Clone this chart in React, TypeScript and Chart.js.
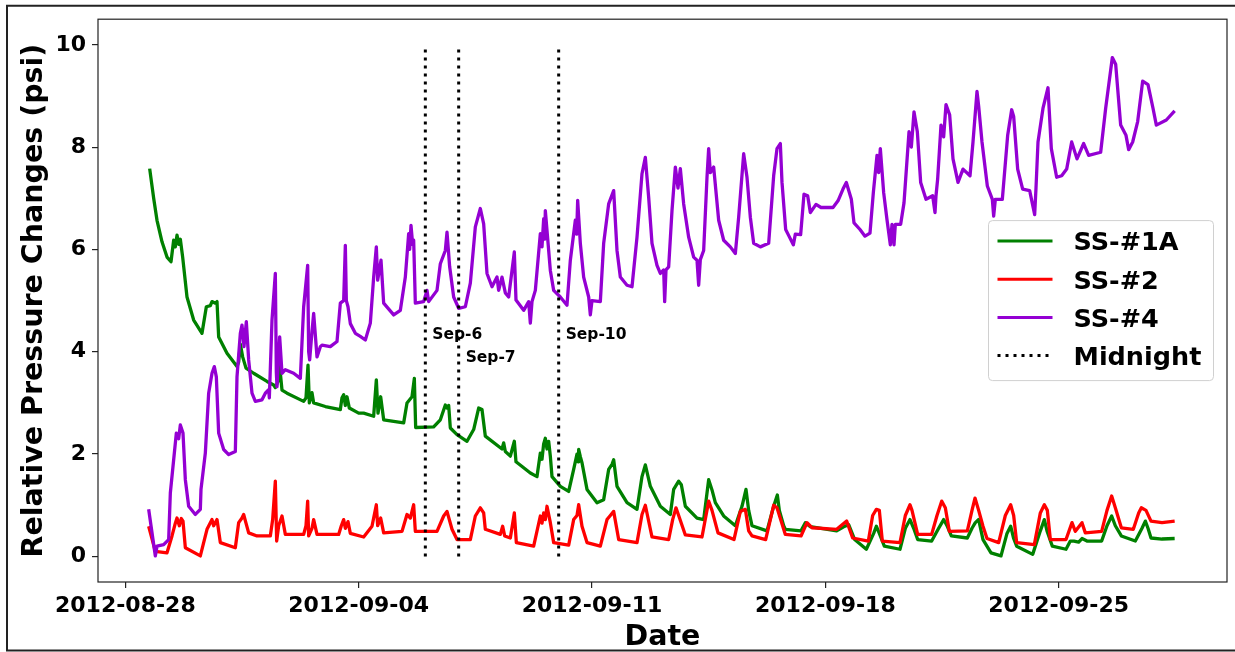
import { useEffect, useRef } from 'react';
import { Chart, registerables } from 'chart.js';

Chart.register(...registerables);

// x values are days counted from 2012-08-28 00:00
const dateTicks = [0, 7, 14, 21, 28];
const dateTickLabels = ['2012-08-28', '2012-09-04', '2012-09-11', '2012-09-18', '2012-09-25'];
const psiTicks = [0, 2, 4, 6, 8, 10];

// SS-#1A relative pressure change [day, psi]
const ss1a: [number, number][] = [
  [0.73, 7.58], [0.85, 7.0], [0.95, 6.57], [1.1, 6.15], [1.25, 5.85], [1.37, 5.76], [1.45, 6.18],
  [1.5, 6.05], [1.55, 6.28], [1.6, 6.1], [1.65, 6.2], [1.72, 5.85], [1.85, 5.07], [2.05, 4.62],
  [2.3, 4.36], [2.43, 4.88], [2.55, 4.9], [2.6, 4.98], [2.7, 4.95], [2.75, 4.98], [2.8, 4.29],
  [3.05, 3.97], [3.35, 3.71], [3.4, 3.8], [3.45, 4.15], [3.52, 3.9], [3.62, 3.68], [3.85, 3.58],
  [4.25, 3.42], [4.45, 3.35], [4.5, 3.3], [4.6, 3.45], [4.63, 3.72], [4.7, 3.25], [4.85, 3.19],
  [5.35, 3.03], [5.42, 3.1], [5.48, 3.74], [5.52, 3.0], [5.6, 3.2], [5.65, 3.0], [6.0, 2.93],
  [6.45, 2.87], [6.5, 3.1], [6.55, 3.16], [6.6, 2.95], [6.65, 3.12], [6.72, 2.9], [7.0, 2.8],
  [7.15, 2.8], [7.45, 2.74], [7.53, 3.45], [7.58, 2.8], [7.66, 3.12], [7.75, 2.67], [8.35, 2.61],
  [8.45, 3.0], [8.6, 3.12], [8.67, 3.48], [8.71, 2.52], [9.25, 2.53], [9.45, 2.67], [9.6, 2.96],
  [9.65, 2.9], [9.7, 2.95], [9.75, 2.51], [9.95, 2.38], [10.25, 2.25], [10.45, 2.48], [10.6, 2.9],
  [10.7, 2.87], [10.8, 2.35], [11.3, 2.1], [11.35, 2.22], [11.4, 2.05], [11.55, 1.96], [11.67, 2.25],
  [11.72, 1.85], [12.15, 1.63], [12.35, 1.56], [12.45, 2.02], [12.5, 1.9], [12.55, 2.2], [12.6, 2.31],
  [12.65, 2.1], [12.7, 2.25], [12.75, 1.96], [12.8, 1.56], [13.05, 1.37], [13.3, 1.27], [13.45, 1.7],
  [13.55, 2.0], [13.58, 1.85], [13.6, 2.09], [13.65, 1.95], [13.7, 1.83], [13.85, 1.31], [14.15, 1.05],
  [14.35, 1.11], [14.5, 1.7], [14.6, 1.8], [14.65, 1.89], [14.75, 1.37], [15.05, 1.05], [15.35, 0.92],
  [15.5, 1.56], [15.6, 1.79], [15.75, 1.37], [16.05, 0.98], [16.35, 0.82], [16.45, 1.31], [16.6, 1.47],
  [16.68, 1.4], [16.8, 0.98], [17.15, 0.75], [17.35, 0.72], [17.5, 1.5], [17.6, 1.3], [17.7, 1.05],
  [17.95, 0.79], [18.3, 0.6], [18.5, 0.98], [18.62, 1.31], [18.7, 0.9], [18.8, 0.6], [19.25, 0.5],
  [19.45, 0.98], [19.56, 1.2], [19.62, 0.9], [19.75, 0.6], [19.8, 0.53], [20.27, 0.5], [20.4, 0.66],
  [20.55, 0.58], [21.34, 0.5], [21.55, 0.58], [21.7, 0.62], [21.88, 0.33], [22.23, 0.14], [22.45, 0.45],
  [22.53, 0.59], [22.62, 0.45], [22.77, 0.2], [23.24, 0.14], [23.4, 0.55], [23.54, 0.72], [23.65, 0.55],
  [23.77, 0.33], [24.19, 0.3], [24.4, 0.55], [24.55, 0.72], [24.65, 0.6], [24.78, 0.4], [25.26, 0.36],
  [25.4, 0.55], [25.5, 0.66], [25.6, 0.72], [25.73, 0.33], [25.97, 0.07], [26.27, 0.01], [26.45, 0.45],
  [26.56, 0.59], [26.65, 0.35], [26.74, 0.2], [27.22, 0.04], [27.45, 0.5], [27.57, 0.72], [27.65, 0.5],
  [27.81, 0.2], [28.22, 0.14], [28.35, 0.3], [28.46, 0.3], [28.6, 0.28], [28.7, 0.35], [28.85, 0.3],
  [29.29, 0.3], [29.45, 0.6], [29.59, 0.79], [29.7, 0.6], [29.88, 0.4], [30.3, 0.3], [30.5, 0.55],
  [30.6, 0.69], [30.68, 0.55], [30.77, 0.36], [31.1, 0.34], [31.48, 0.35],
];

// SS-#2 relative pressure change [day, psi]
const ss2: [number, number][] = [
  [0.7, 0.59], [0.9, 0.1], [1.25, 0.07], [1.4, 0.4], [1.5, 0.65], [1.55, 0.75], [1.62, 0.6],
  [1.68, 0.74], [1.73, 0.69], [1.8, 0.17], [2.25, 0.01], [2.45, 0.53], [2.6, 0.72], [2.65, 0.6],
  [2.75, 0.72], [2.85, 0.27], [3.3, 0.17], [3.4, 0.66], [3.5, 0.75], [3.55, 0.82], [3.62, 0.65],
  [3.7, 0.46], [3.95, 0.4], [4.35, 0.4], [4.42, 0.72], [4.5, 1.47], [4.54, 0.3], [4.6, 0.6],
  [4.7, 0.79], [4.8, 0.43], [5.35, 0.43], [5.42, 0.6], [5.47, 1.08], [5.5, 0.4], [5.6, 0.55],
  [5.65, 0.72], [5.75, 0.43], [6.4, 0.43], [6.48, 0.6], [6.55, 0.72], [6.6, 0.55], [6.68, 0.68],
  [6.75, 0.45], [7.15, 0.38], [7.4, 0.59], [7.53, 1.01], [7.57, 0.6], [7.66, 0.75], [7.75, 0.46],
  [8.3, 0.49], [8.45, 0.82], [8.55, 0.75], [8.65, 1.01], [8.7, 0.49], [9.35, 0.49], [9.55, 0.79],
  [9.65, 0.88], [9.8, 0.53], [9.95, 0.33], [10.35, 0.33], [10.5, 0.79], [10.65, 0.95], [10.75, 0.85],
  [10.8, 0.53], [11.25, 0.43], [11.32, 0.59], [11.38, 0.4], [11.55, 0.36], [11.67, 0.85], [11.73, 0.27],
  [12.25, 0.2], [12.45, 0.79], [12.5, 0.65], [12.55, 0.85], [12.6, 0.72], [12.65, 0.98], [12.75, 0.66],
  [12.85, 0.27], [13.3, 0.22], [13.45, 0.72], [13.55, 0.8], [13.6, 1.01], [13.7, 0.59], [13.85, 0.27],
  [14.25, 0.2], [14.45, 0.72], [14.55, 0.8], [14.65, 0.88], [14.8, 0.33], [15.35, 0.27], [15.5, 0.82],
  [15.6, 1.0], [15.8, 0.38], [16.3, 0.33], [16.42, 0.72], [16.52, 0.95], [16.6, 0.8], [16.8, 0.42],
  [17.3, 0.38], [17.5, 1.08], [17.6, 0.9], [17.78, 0.46], [18.26, 0.33], [18.45, 0.88], [18.6, 0.92],
  [18.7, 0.5], [18.8, 0.4], [19.21, 0.33], [19.45, 1.0], [19.55, 0.95], [19.8, 0.43], [20.27, 0.4],
  [20.45, 0.66], [20.6, 0.56], [21.34, 0.53], [21.64, 0.69], [21.82, 0.36], [22.29, 0.3], [22.42, 0.8],
  [22.53, 0.92], [22.62, 0.9], [22.71, 0.3], [23.24, 0.27], [23.4, 0.8], [23.54, 1.01], [23.6, 0.9],
  [23.77, 0.43], [24.19, 0.43], [24.35, 0.8], [24.49, 1.08], [24.6, 0.95], [24.72, 0.49], [25.26, 0.5],
  [25.4, 0.9], [25.49, 1.14], [25.6, 0.9], [25.73, 0.59], [25.85, 0.35], [26.2, 0.27], [26.4, 0.8],
  [26.56, 1.01], [26.65, 0.8], [26.74, 0.27], [27.27, 0.23], [27.45, 0.85], [27.57, 1.01], [27.66, 0.9],
  [27.75, 0.33], [28.22, 0.33], [28.4, 0.66], [28.5, 0.49], [28.7, 0.66], [28.8, 0.46], [29.29, 0.49],
  [29.45, 0.9], [29.59, 1.18], [29.7, 0.95], [29.88, 0.56], [30.24, 0.53], [30.4, 0.85], [30.48, 0.95],
  [30.62, 0.9], [30.77, 0.69], [31.1, 0.66], [31.48, 0.69],
];

// SS-#4 relative pressure change [day, psi]
const ss4: [number, number][] = [
  [0.7, 0.92], [0.9, 0.01], [0.95, 0.2], [1.15, 0.23], [1.3, 0.33], [1.35, 1.24], [1.45, 1.89],
  [1.53, 2.41], [1.6, 2.3], [1.65, 2.57], [1.73, 2.41], [1.8, 1.5], [1.9, 0.98], [2.1, 0.82],
  [2.25, 0.92], [2.27, 1.31], [2.4, 2.02], [2.5, 3.19], [2.6, 3.58], [2.67, 3.71], [2.73, 3.51],
  [2.8, 2.41], [2.95, 2.09], [3.1, 1.99], [3.3, 2.05], [3.35, 3.51], [3.45, 4.36], [3.5, 4.52],
  [3.56, 4.1], [3.63, 4.59], [3.7, 3.84], [3.8, 3.19], [3.9, 3.03], [4.1, 3.06], [4.2, 3.19],
  [4.3, 3.26], [4.32, 3.1], [4.4, 4.62], [4.5, 5.53], [4.53, 3.6], [4.55, 3.32], [4.63, 4.29],
  [4.7, 3.58], [4.8, 3.65], [5.05, 3.58], [5.25, 3.48], [5.35, 4.88], [5.47, 5.69], [5.5, 4.0],
  [5.53, 3.84], [5.6, 4.4], [5.65, 4.75], [5.75, 3.9], [5.85, 4.1], [5.9, 4.13], [6.15, 4.1],
  [6.35, 4.2], [6.45, 4.95], [6.55, 5.0], [6.6, 6.08], [6.63, 5.0], [6.68, 4.88], [6.75, 4.55],
  [6.9, 4.36], [7.05, 4.3], [7.2, 4.23], [7.35, 4.56], [7.45, 5.46], [7.53, 6.05], [7.57, 5.4],
  [7.67, 5.79], [7.75, 4.95], [8.05, 4.72], [8.25, 4.81], [8.4, 5.46], [8.5, 6.31], [8.53, 6.0],
  [8.57, 6.47], [8.62, 6.1], [8.65, 6.18], [8.7, 4.95], [8.95, 4.98], [9.05, 5.2], [9.1, 4.98],
  [9.35, 5.2], [9.45, 5.72], [9.6, 5.98], [9.65, 6.34], [9.73, 5.66], [9.85, 5.07], [10.0, 4.85],
  [10.2, 4.88], [10.35, 5.34], [10.5, 6.44], [10.65, 6.8], [10.75, 6.5], [10.85, 5.53], [11.0, 5.27],
  [11.15, 5.46], [11.2, 5.2], [11.3, 5.46], [11.4, 5.15], [11.5, 5.07], [11.67, 5.95], [11.72, 5.01],
  [11.95, 4.81], [12.1, 4.98], [12.15, 4.56], [12.2, 4.98], [12.3, 5.2], [12.45, 6.31], [12.5, 6.05],
  [12.55, 6.6], [12.58, 6.2], [12.6, 6.76], [12.65, 6.37], [12.75, 5.59], [12.85, 5.2], [13.05, 5.07],
  [13.25, 4.91], [13.35, 5.79], [13.5, 6.57], [13.54, 6.3], [13.57, 6.96], [13.65, 6.12], [13.75, 5.46],
  [13.9, 5.07], [13.95, 4.72], [14.0, 5.0], [14.25, 4.98], [14.35, 6.12], [14.5, 6.89], [14.65, 7.15],
  [14.75, 5.98], [14.85, 5.46], [15.05, 5.3], [15.2, 5.27], [15.35, 6.24], [15.5, 7.48], [15.6, 7.8],
  [15.7, 7.02], [15.8, 6.12], [15.95, 5.69], [16.05, 5.53], [16.15, 5.6], [16.18, 4.98], [16.22, 5.6],
  [16.3, 5.66], [16.4, 6.76], [16.5, 7.61], [16.58, 7.2], [16.65, 7.58], [16.75, 6.89], [16.9, 6.24],
  [17.05, 5.85], [17.15, 5.79], [17.2, 5.3], [17.25, 5.8], [17.35, 5.98], [17.45, 7.41], [17.5, 7.97],
  [17.55, 7.5], [17.65, 7.61], [17.8, 6.57], [17.95, 6.18], [18.15, 6.05], [18.3, 5.92], [18.4, 6.63],
  [18.55, 7.87], [18.65, 7.41], [18.75, 6.63], [18.85, 6.12], [19.05, 6.05], [19.3, 6.12], [19.45, 7.44],
  [19.55, 7.97], [19.65, 8.07], [19.7, 7.31], [19.81, 6.39], [19.91, 6.26], [20.04, 6.09], [20.1, 6.3],
  [20.26, 6.29], [20.36, 7.08], [20.47, 7.05], [20.55, 6.72], [20.72, 6.88], [20.87, 6.82], [21.23, 6.82],
  [21.38, 6.95], [21.53, 7.18], [21.63, 7.31], [21.78, 6.98], [21.86, 6.52], [22.04, 6.39], [22.19, 6.26],
  [22.34, 6.32], [22.44, 7.11], [22.55, 7.84], [22.6, 7.5], [22.65, 7.97], [22.75, 7.11], [22.85, 6.58],
  [22.95, 6.09], [23.0, 6.49], [23.06, 6.09], [23.1, 6.49], [23.26, 6.49], [23.36, 6.91], [23.51, 8.3],
  [23.58, 8.0], [23.66, 8.69], [23.76, 8.3], [23.86, 7.31], [24.02, 6.98], [24.22, 7.05], [24.29, 6.72],
  [24.32, 7.05], [24.37, 7.38], [24.47, 8.43], [24.55, 8.2], [24.62, 8.83], [24.73, 8.63], [24.83, 7.77],
  [24.98, 7.31], [25.13, 7.57], [25.34, 7.44], [25.43, 8.1], [25.55, 9.09], [25.6, 8.8], [25.7, 8.1],
  [25.86, 7.24], [26.01, 6.98], [26.05, 6.65], [26.1, 6.98], [26.31, 6.98], [26.47, 8.23], [26.59, 8.73],
  [26.65, 8.6], [26.77, 7.57], [26.92, 7.18], [27.13, 7.15], [27.28, 6.68], [27.32, 7.2], [27.38, 8.1],
  [27.53, 8.76], [27.68, 9.16], [27.78, 7.97], [27.94, 7.41], [28.09, 7.44], [28.24, 7.57], [28.39, 8.1],
  [28.55, 7.77], [28.75, 8.07], [28.9, 7.84], [29.26, 7.9], [29.41, 8.76], [29.61, 9.75], [29.71, 9.62],
  [29.86, 8.43], [30.02, 8.23], [30.1, 7.95], [30.22, 8.1], [30.37, 8.5], [30.52, 9.29], [30.68, 9.22],
  [30.83, 8.76], [30.93, 8.43], [31.23, 8.53], [31.48, 8.71],
];

// Midnight markers and their captions
const midnightDays = [9, 10, 13];
const midnightLabels = ['Sep-6', 'Sep-7', 'Sep-10'];
const midnightLabelPsi = [4.25, 3.8, 4.25];
const midnightSpan = [0, 10];

const FONT = '"DejaVu Sans", "Liberation Sans", sans-serif';
const INK = '#000';
const SPINE = '#222';

const toPoints = (rows: [number, number][]) => rows.map(([x, y]) => ({ x, y }));

const midnightPoints = midnightDays.flatMap((d) => [
  { x: d, y: midnightSpan[0] },
  { x: d, y: midnightSpan[1] },
  { x: d, y: null as number | null },
]);

const decorations = {
  id: 'decorations',
  beforeDraw(chart: any) {
    const { ctx, width, height } = chart;
    ctx.save();
    ctx.fillStyle = '#fff';
    ctx.fillRect(0, 0, width, height);
    ctx.restore();
  },
  afterDatasetsDraw(chart: any) {
    const { ctx, chartArea: a, scales } = chart;
    const xs = scales.x;
    const ys = scales.y;
    ctx.save();

    // captions beside the midnight lines
    ctx.font = `bold 15.5px ${FONT}`;
    ctx.fillStyle = INK;
    ctx.textAlign = 'left';
    ctx.textBaseline = 'alphabetic';
    midnightDays.forEach((d, i) => {
      ctx.fillText(midnightLabels[i], xs.getPixelForValue(d) + 7, ys.getPixelForValue(midnightLabelPsi[i]));
    });

    // axes box
    ctx.strokeStyle = SPINE;
    ctx.lineWidth = 1.2;
    ctx.strokeRect(a.left, a.top, a.right - a.left, a.bottom - a.top);

    // axis titles
    ctx.font = `bold 28.5px ${FONT}`;
    ctx.textAlign = 'center';
    ctx.fillText('Date', (a.left + a.right) / 2, 645);
    ctx.save();
    ctx.translate(42, (a.top + a.bottom) / 2);
    ctx.rotate(-Math.PI / 2);
    ctx.fillText('Relative Pressure Changes (psi)', 0, 0);
    ctx.restore();

    // legend, centre right inside the axes
    const ds = chart.data.datasets;
    const boxW = 225;
    const boxH = 160;
    const bx = a.right - 13.5 - boxW;
    const by = (a.top + a.bottom) / 2 - boxH / 2;
    ctx.beginPath();
    ctx.roundRect(bx, by, boxW, boxH, 4);
    ctx.fillStyle = 'rgba(255,255,255,0.8)';
    ctx.fill();
    ctx.strokeStyle = '#d0d0d0';
    ctx.lineWidth = 1;
    ctx.stroke();
    const legendFont = 25.5;
    ctx.font = `bold ${legendFont}px ${FONT}`;
    ctx.textAlign = 'left';
    ctx.textBaseline = 'alphabetic';
    ds.forEach((d: any, i: number) => {
      const rowY = by + 20.5 + i * 38.15;
      ctx.save();
      ctx.strokeStyle = d.borderColor;
      ctx.lineWidth = 3;
      ctx.lineCap = 'butt';
      ctx.setLineDash(d.borderDash || []);
      ctx.beginPath();
      ctx.moveTo(bx + 9, rowY);
      ctx.lineTo(bx + 64, rowY);
      ctx.stroke();
      ctx.restore();
      ctx.fillStyle = INK;
      ctx.fillText(d.label, bx + 85, rowY + 0.3645 * legendFont);
    });

    // figure frame
    ctx.strokeStyle = SPINE;
    ctx.lineWidth = 2;
    ctx.beginPath();
    ctx.moveTo(6, 5.7);
    ctx.lineTo(1235, 5.7);
    ctx.moveTo(7, 4.7);
    ctx.lineTo(7, 651);
    ctx.moveTo(6, 650.5);
    ctx.lineTo(1235, 650.5);
    ctx.stroke();

    ctx.restore();
  },
};

export default function App() {
  const canvasRef = useRef<HTMLCanvasElement | null>(null);

  useEffect(() => {
    const canvas = canvasRef.current;
    if (!canvas) return;
    const lineStyle = {
      borderWidth: 3.3,
      pointRadius: 0,
      tension: 0,
      borderJoinStyle: 'round' as const,
      fill: false,
    };
    const chart = new Chart(canvas, {
      type: 'line',
      data: {
        datasets: [
          { ...lineStyle, label: 'SS-#1A', data: toPoints(ss1a), borderColor: '#008000', order: 4 },
          { ...lineStyle, label: 'SS-#2', data: toPoints(ss2), borderColor: '#ff0000', order: 3 },
          { ...lineStyle, label: 'SS-#4', data: toPoints(ss4), borderColor: '#9400d3', order: 2 },
          {
            ...lineStyle,
            borderWidth: 3,
            label: 'Midnight',
            data: midnightPoints as any,
            borderColor: '#000',
            borderDash: [3, 5],
            borderCapStyle: 'butt' as const,
            order: 1,
          },
        ],
      },
      options: {
        animation: false,
        responsive: false,
        devicePixelRatio: 1,
        events: [],
        layout: { padding: { left: 0, top: 18, right: 8, bottom: 0 } },
        plugins: { legend: { display: false }, tooltip: { enabled: false }, title: { display: false } },
        scales: {
          x: {
            type: 'linear',
            min: -0.82,
            max: 33.05,
            afterFit: (s: any) => { s.height = 70; },
            afterBuildTicks: (s: any) => { s.ticks = dateTicks.map((v) => ({ value: v })); },
            ticks: {
              color: INK,
              font: { family: FONT, size: 22, weight: 'bold' },
              padding: 5,
              maxRotation: 0,
              autoSkip: false,
              callback: (v: any) => {
                const i = dateTicks.indexOf(Number(v));
                return i >= 0 ? dateTickLabels[i] : '';
              },
            },
            grid: { display: true, drawOnChartArea: false, drawTicks: true, tickLength: 6, color: SPINE, lineWidth: 1.2 },
            border: { display: false },
          },
          y: {
            type: 'linear',
            min: -0.5,
            max: 10.5,
            afterFit: (s: any) => { s.width = 98; },
            afterBuildTicks: (s: any) => { s.ticks = psiTicks.map((v) => ({ value: v })); },
            ticks: {
              color: INK,
              font: { family: FONT, size: 22, weight: 'bold' },
              padding: 6,
              autoSkip: false,
              callback: (v: any) => String(v),
            },
            grid: { display: true, drawOnChartArea: false, drawTicks: true, tickLength: 6, color: SPINE, lineWidth: 1.2 },
            border: { display: false },
          },
        },
      },
      plugins: [decorations],
    });
    return () => chart.destroy();
  }, []);

  return (
    <div style={{ position: 'absolute', left: 0, top: 0, width: 1235, height: 652, background: '#fff' }}>
      <canvas ref={canvasRef} width={1235} height={652} style={{ display: 'block', width: 1235, height: 652 }} />
    </div>
  );
}
